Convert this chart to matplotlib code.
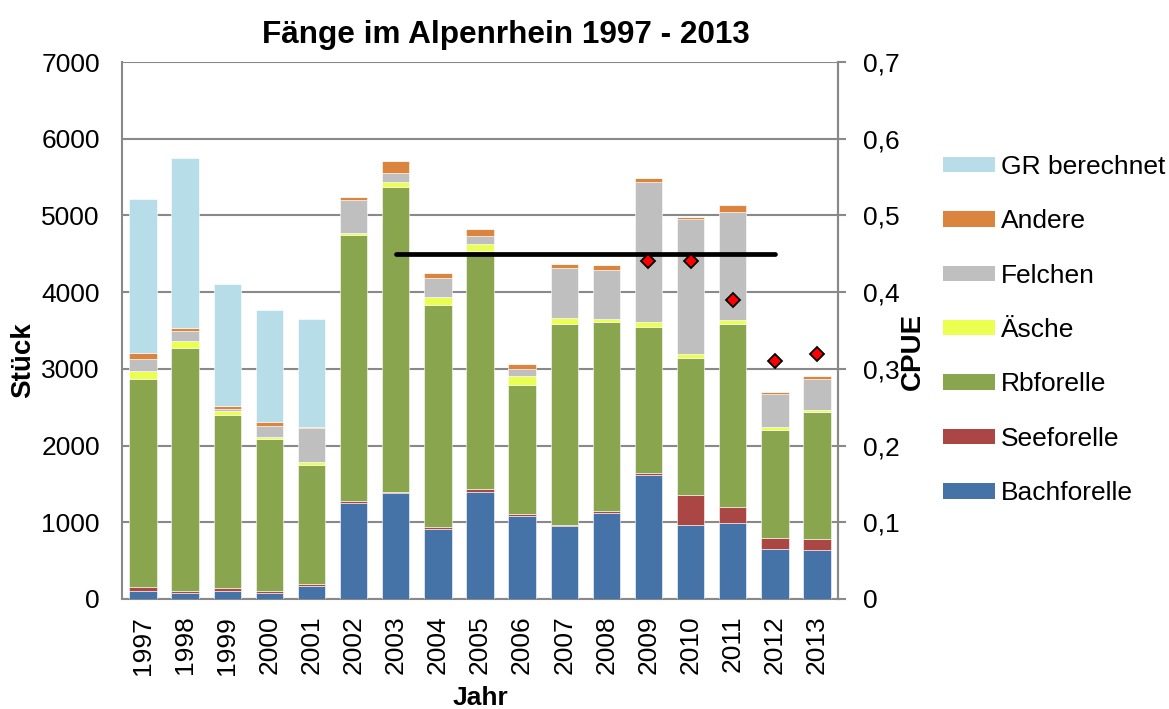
import matplotlib
matplotlib.use("Agg")
import matplotlib.pyplot as plt
from matplotlib.patches import Patch
import numpy as np

plt.rcParams['font.family'] = ['Liberation Sans', 'DejaVu Sans']

years = ['1997', '1998', '1999', '2000', '2001', '2002', '2003', '2004', '2005',
         '2006', '2007', '2008', '2009', '2010', '2011', '2012', '2013']

bachforelle = [100, 74, 100, 74, 170, 1252, 1383, 913, 1400, 1087, 957, 1126, 1617, 965, 987, 652, 639]
seeforelle = [52, 35, 39, 30, 26, 26, 17, 26, 30, 22, 8, 18, 27, 392, 213, 144, 139]
rbforelle = [2713, 3161, 2257, 1979, 1552, 3470, 3970, 2896, 3105, 1687, 2622, 2465, 1900, 1782, 2387, 1408, 1657]
aesche = [113, 95, 56, 34, 35, 17, 65, 96, 96, 117, 74, 43, 69, 57, 48, 40, 35]
felchen = [144, 131, 31, 144, 448, 440, 122, 252, 104, 91, 652, 635, 1822, 1752, 1409, 426, 395]
andere = [82, 35, 34, 52, 17, 39, 156, 69, 83, 53, 52, 61, 57, 30, 91, 26, 48]
gr_berechnet = [2014, 2217, 1583, 1448, 1404, 0, 0, 0, 0, 0, 0, 0, 0, 0, 0, 0, 0]

cpue_years = ['2009', '2010', '2011', '2012', '2013']
cpue_values = [0.44, 0.44, 0.39, 0.31, 0.32]
ref_line_years = ['2003', '2012']
ref_line_value = 0.45

series = [
    ('Bachforelle', bachforelle, '#4572A7'),
    ('Seeforelle', seeforelle, '#AA4643'),
    ('Rbforelle', rbforelle, '#89A54E'),
    ('Äsche', aesche, '#EAFF50'),
    ('Felchen', felchen, '#BFBFBF'),
    ('Andere', andere, '#DB843D'),
    ('GR berechnet', gr_berechnet, '#B7DDE8'),
]

W, H = 1169, 709
fig = plt.figure(figsize=(W / 100, H / 100), dpi=100)
ax = fig.add_axes([122 / W, 1 - 599 / H, (838 - 122) / W, (599 - 62) / H])

GRID = '#898989'
x = np.arange(len(years))
bottom = np.zeros(len(years))
handles = {}
for name, vals, col in series:
    v = np.array(vals, dtype=float)
    ax.bar(x, v, 0.65, bottom=bottom, color=col, edgecolor='white', linewidth=0.4, zorder=3)
    bottom += v
    handles[name] = Patch(facecolor=col, edgecolor='none')

ax.set_xlim(-0.5, len(years) - 0.5)
ax.set_ylim(0, 7000)
ax.set_yticks(np.arange(0, 7001, 1000))
ax.yaxis.grid(True, color=GRID, linewidth=1.5, zorder=0)
ax.set_axisbelow(True)
ax.set_xticks(x)
ax.set_xticklabels(years, rotation=90, fontsize=19)
ax.tick_params(axis='y', labelsize=19, length=0, pad=16)
ax.tick_params(axis='x', length=0, pad=12)
ax.spines['top'].set_visible(False)
for s in ['left', 'right', 'bottom']:
    ax.spines[s].set_color(GRID)
    ax.spines[s].set_linewidth(1.5)

ax2 = ax.twinx()
ax2.set_ylim(0, 0.7)
ticks2 = np.arange(0, 0.71, 0.1)
ax2.set_yticks(ticks2)
ax2.set_yticklabels(['0'] + [('%.1f' % t).replace('.', ',') for t in ticks2[1:]], fontsize=19)
ax2.tick_params(axis='y', length=6, width=1.5, color=GRID, pad=12)
for s in ['top', 'left', 'bottom']:
    ax2.spines[s].set_visible(False)
ax2.spines['right'].set_color(GRID)
ax2.spines['right'].set_linewidth(1.5)

idx = {y: i for i, y in enumerate(years)}
lx = [idx[y] for y in ref_line_years]
ax2.plot(lx, [ref_line_value, ref_line_value], color='black', linewidth=3.4,
         solid_capstyle='round', zorder=5)
cx = [idx[y] for y in cpue_years]
ax2.plot(cx, cpue_values, linestyle='none', marker='D', markersize=7.5,
         markerfacecolor='#FF0000', markeredgecolor='black', markeredgewidth=1.3, zorder=6)

# titles and axis labels
fig.text(506 / W, 1 - 43 / H, 'Fänge im Alpenrhein 1997 - 2013', fontsize=22.7,
         fontweight='bold', ha='center', va='baseline')
fig.text(23 / W, 1 - 360 / H, 'Stück', fontsize=20, fontweight='bold',
         rotation=90, ha='center', va='center')
fig.text(913 / W, 1 - 351 / H, 'CPUE', fontsize=20, fontweight='bold',
         rotation=90, ha='center', va='center')
fig.text(480 / W, 1 - 698 / H, 'Jahr', fontsize=19, fontweight='bold',
         ha='center', va='center')

order = ['GR berechnet', 'Andere', 'Felchen', 'Äsche', 'Rbforelle', 'Seeforelle', 'Bachforelle']
fig.legend([handles[n] for n in order], order, loc='upper left',
           bbox_to_anchor=(943 / W, 1 - 155 / H), frameon=False, fontsize=19,
           handlelength=1.97, handleheight=0.53, handletextpad=0.23,
           labelspacing=1.15, borderpad=0, borderaxespad=0)

fig.savefig('out.png', dpi=100)
